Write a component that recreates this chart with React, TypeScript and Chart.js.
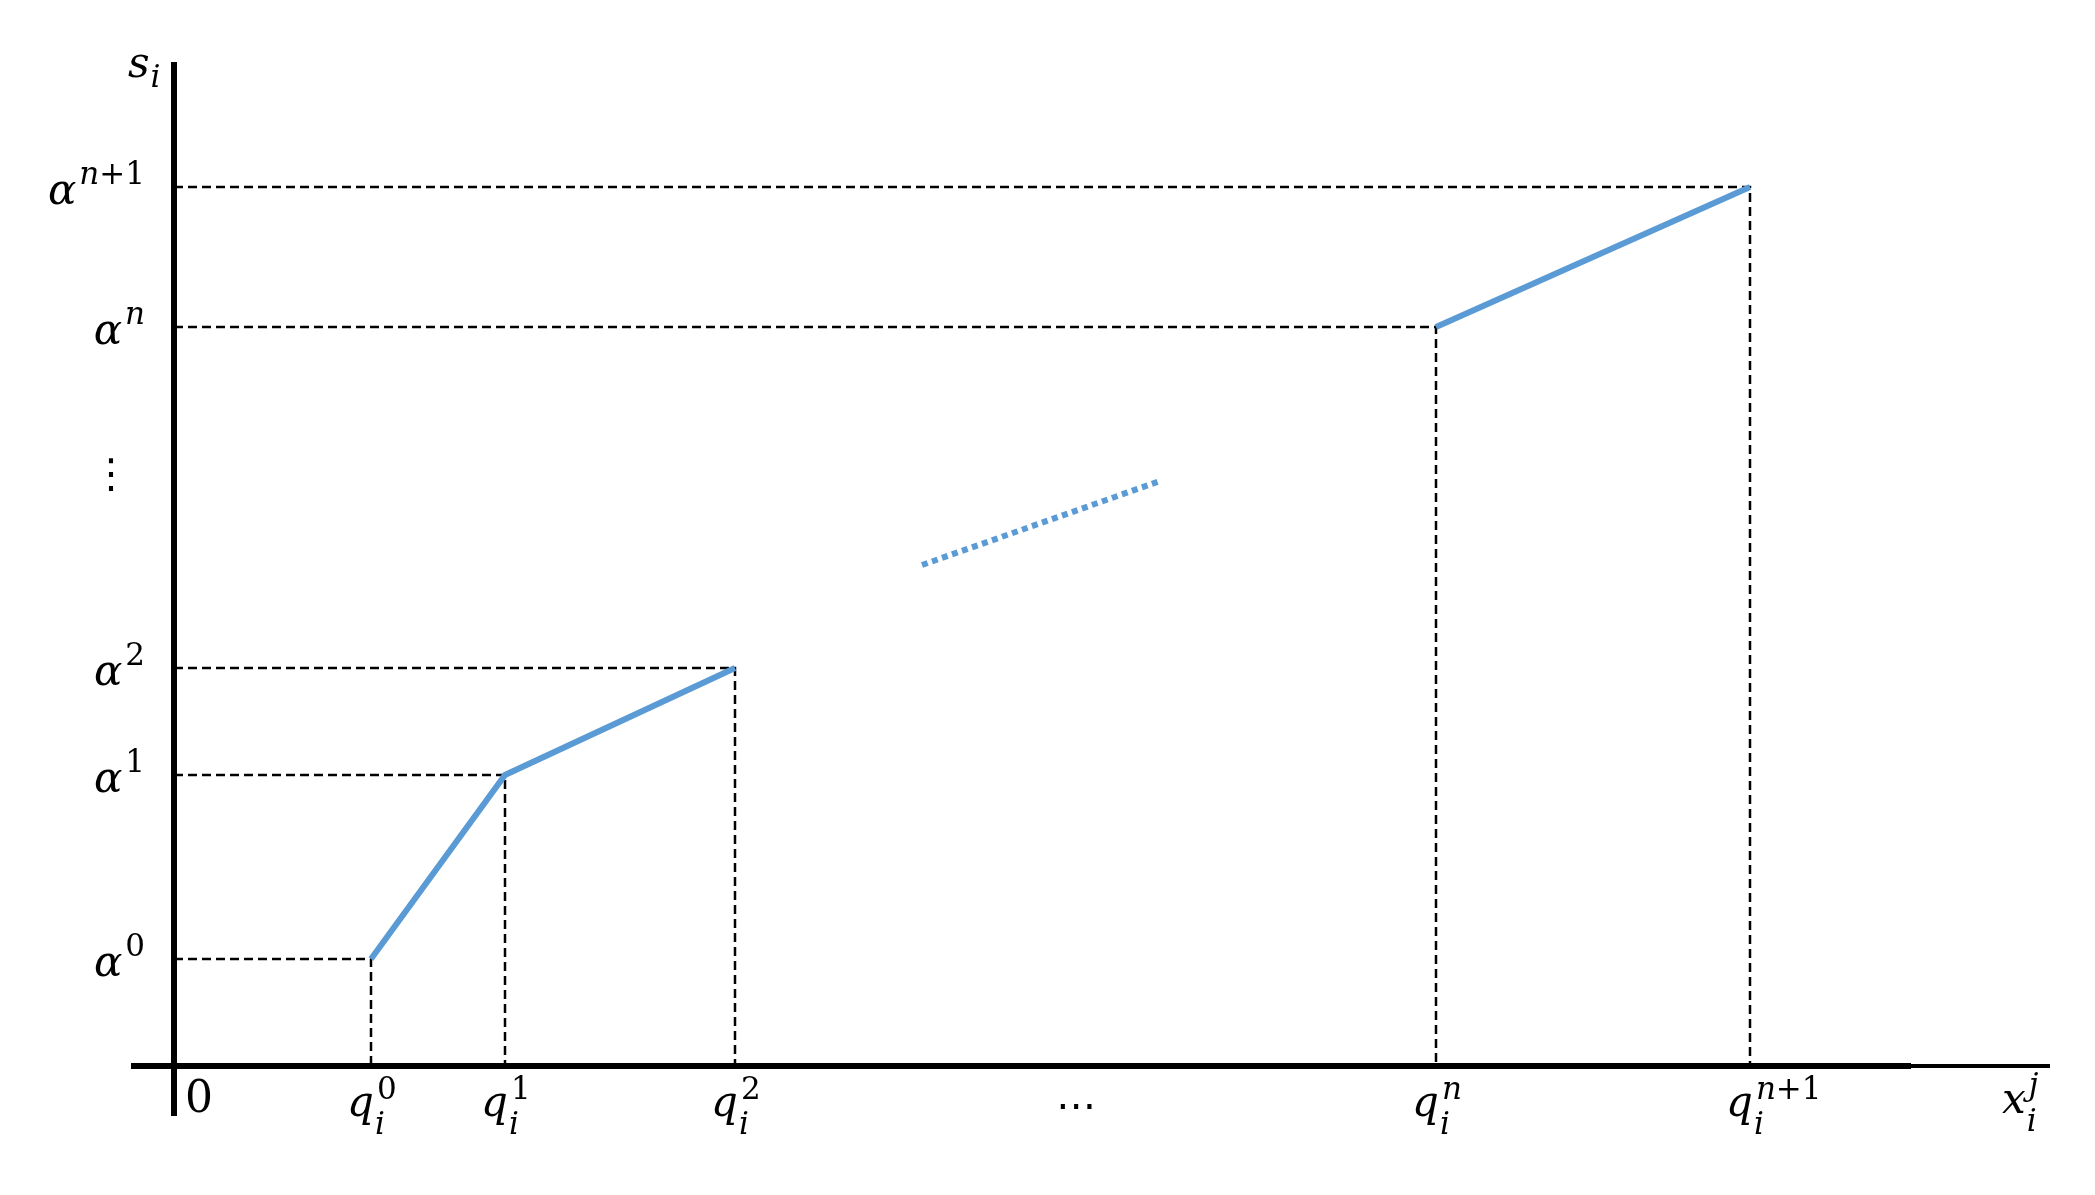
import React, { useEffect, useRef } from "react";
import { Chart, registerables } from "chart.js";

Chart.register(...registerables);

// ---- data (arbitrary schematic units) ----
const qLevels = [19.7, 33.1, 56.1, 126.2, 157.6]; // x breakpoints q_i^k
const alphaLevels = [10.7, 29.1, 39.8, 73.9, 87.9]; // s_i levels α^k
const levelSuperscripts = ["0", "1", "2", "n", "n+1"];

const firstPieceX = [19.7, 33.1, 56.1];
const firstPieceY = [10.7, 29.1, 39.8];
const gapPieceX = [74.8, 98.6];
const gapPieceY = [50.1, 58.5];
const lastPieceX = [126.2, 157.6];
const lastPieceY = [73.9, 87.9];

const xEllipsisAt = 90.2;
const yEllipsisAt = 58.9;

// ---- styling / layout ----
const W = 2095;
const H = 1195;
const X_RANGE = [-17.4, 192.1];
const Y_RANGE = [-12.9, 106.6];
const BLUE = "#5B9BD5";
const SERIF = '"DejaVu Serif"';

const zip = (xs: number[], ys: number[]) => xs.map((x, i) => ({ x, y: ys[i] }));

type Seg = { t: string; italic: boolean };
const supSegs = (s: string): Seg[] => {
  const out: Seg[] = [];
  for (const ch of s) {
    const italic = /[a-z]/.test(ch);
    const last = out[out.length - 1];
    if (last && last.italic === italic) last.t += ch;
    else out.push({ t: ch, italic });
  }
  return out;
};

const MAIN_FONT = `italic 42px ${SERIF}`;
const SMALL = 31;
const smallFont = (italic: boolean) => `${italic ? "italic " : ""}${SMALL}px ${SERIF}`;

function mathLabel(
  ctx: CanvasRenderingContext2D,
  x: number,
  baseY: number,
  base: string,
  sub: string | null,
  sup: string | null,
  align: "left" | "right",
  supShift: number,
  subShift: number
) {
  ctx.font = MAIN_FONT;
  const baseW = ctx.measureText(base).width;
  let subW = 0;
  if (sub) {
    ctx.font = smallFont(true);
    subW = ctx.measureText(sub).width;
  }
  const segs = sup ? supSegs(sup) : [];
  let supW = 0;
  for (const s of segs) {
    ctx.font = smallFont(s.italic);
    supW += ctx.measureText(s.t).width;
  }
  const total = baseW + 2 + Math.max(subW, supW);
  const x0 = align === "left" ? x : x - total;
  ctx.textAlign = "left";
  ctx.textBaseline = "alphabetic";
  ctx.fillStyle = "#000";
  ctx.font = MAIN_FONT;
  ctx.fillText(base, x0, baseY);
  if (sub) {
    ctx.font = smallFont(true);
    ctx.fillText(sub, x0 + baseW + 1, baseY + subShift);
  }
  let sx = x0 + baseW + 3;
  for (const s of segs) {
    ctx.font = smallFont(s.italic);
    ctx.fillText(s.t, sx, baseY - supShift);
    sx += ctx.measureText(s.t).width;
  }
}

const mathPlugin = {
  id: "mathDecor",
  afterDatasetsDraw(chart: any) {
    const { ctx, scales } = chart;
    const X = (v: number) => scales.x.getPixelForValue(v);
    const Y = (v: number) => scales.y.getPixelForValue(v);
    ctx.save();
    const seg = (x1: number, y1: number, x2: number, y2: number, w: number) => {
      ctx.beginPath();
      ctx.lineWidth = w;
      ctx.strokeStyle = "#000";
      ctx.setLineDash([]);
      ctx.moveTo(x1, y1);
      ctx.lineTo(x2, y2);
      ctx.stroke();
    };
    // axes
    seg(X(-4.3), Y(0), X(173.7), Y(0), 6);
    seg(X(173.7), Y(0), X(187.6), Y(0), 4);
    seg(X(0), Y(-5.0), X(0), Y(100.4), 6);

    // y-axis labels α^k
    alphaLevels.forEach((a, k) => {
      mathLabel(ctx, 144, Y(a) + 17, "α", null, levelSuperscripts[k], "right", 20, 0);
    });
    // x-axis labels q_i^k
    qLevels.forEach((q, k) => {
      mathLabel(ctx, X(q) - 24, Y(0) + 50, "q", "i", levelSuperscripts[k], "left", 17, 18);
    });
    // origin
    ctx.font = `44px ${SERIF}`;
    ctx.textAlign = "left";
    ctx.textBaseline = "alphabetic";
    ctx.fillStyle = "#000";
    ctx.fillText("0", X(0) + 11, Y(0) + 46);
    // axis titles
    mathLabel(ctx, X(0) - 46, 77, "s", "i", null, "left", 0, 10);
    mathLabel(ctx, X(187.6) - 48, Y(0) + 47, "x", "i", "j", "left", 18, 18);
    // ellipses
    ctx.font = `40px "DejaVu Sans"`;
    ctx.textAlign = "center";
    ctx.textBaseline = "middle";
    ctx.fillText("⋯", X(xEllipsisAt), Y(0) + 43);
    ctx.fillText("⋮", X(0) - 63, Y(yEllipsisAt));
    ctx.restore();
  },
};

export default function App() {
  const ref = useRef<HTMLCanvasElement>(null);
  useEffect(() => {
    const guides = qLevels.map((q, k) => ({
      data: [
        { x: 0, y: alphaLevels[k] },
        { x: q, y: alphaLevels[k] },
        { x: q, y: 0 },
      ],
      borderColor: "#000",
      borderWidth: 2.5,
      borderDash: [9, 5],
      showLine: true,
      pointRadius: 0,
      fill: false,
    }));
    const chart = new Chart(ref.current!, {
      type: "scatter",
      data: {
        datasets: [
          {
            data: zip(firstPieceX, firstPieceY),
            borderColor: BLUE,
            borderWidth: 6,
            showLine: true,
            pointRadius: 0,
          },
          {
            data: zip(gapPieceX, gapPieceY),
            borderColor: BLUE,
            borderWidth: 6,
            borderDash: [6, 4.6],
            showLine: true,
            pointRadius: 0,
          },
          {
            data: zip(lastPieceX, lastPieceY),
            borderColor: BLUE,
            borderWidth: 6,
            showLine: true,
            pointRadius: 0,
          },
          ...guides,
        ] as any,
      },
      options: {
        animation: false,
        responsive: false,
        maintainAspectRatio: false,
        layout: { padding: 0 },
        plugins: { legend: { display: false }, tooltip: { enabled: false }, title: { display: false } },
        scales: {
          x: { type: "linear", min: X_RANGE[0], max: X_RANGE[1], display: false },
          y: { type: "linear", min: Y_RANGE[0], max: Y_RANGE[1], display: false },
        },
      },
      plugins: [mathPlugin],
    });
    return () => chart.destroy();
  }, []);
  return (
    <div style={{ position: "fixed", left: 0, top: 0, width: W, height: H, background: "#fff" }}>
      <canvas ref={ref} width={W} height={H} style={{ width: W, height: H, display: "block" }} />
    </div>
  );
}
